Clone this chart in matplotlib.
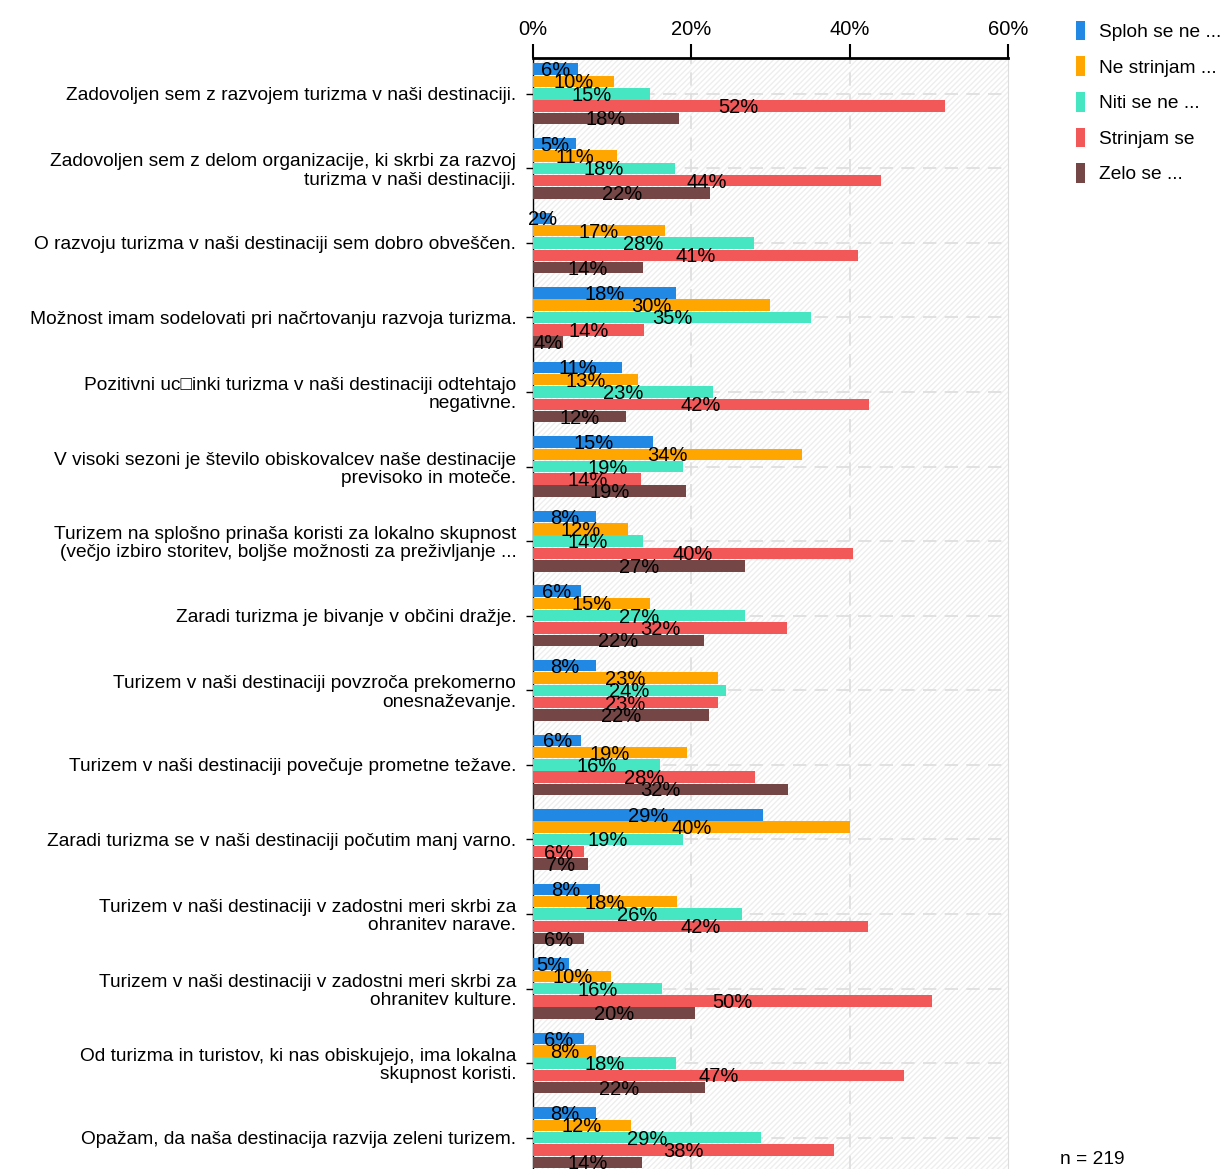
import matplotlib.pyplot as plt
import numpy as np
from matplotlib.patches import Rectangle, Patch

plt.rcParams['font.family'] = ['Liberation Sans', 'DejaVu Sans']

# statements (y axis)
questions = [
    "Zadovoljen sem z razvojem turizma v naši destinaciji.",
    "Zadovoljen sem z delom organizacije, ki skrbi za razvoj\nturizma v naši destinaciji.",
    "O razvoju turizma v naši destinaciji sem dobro obveščen.",
    "Možnost imam sodelovati pri načrtovanju razvoja turizma.",
    "Pozitivni uc\u25a1inki turizma v naši destinaciji odtehtajo\nnegativne.",
    "V visoki sezoni je število obiskovalcev naše destinacije\nprevisoko in moteče.",
    "Turizem na splošno prinaša koristi za lokalno skupnost\n(večjo izbiro storitev, boljše možnosti za preživljanje ...",
    "Zaradi turizma je bivanje v občini dražje.",
    "Turizem v naši destinaciji povzroča prekomerno\nonesnaževanje.",
    "Turizem v naši destinaciji povečuje prometne težave.",
    "Zaradi turizma se v naši destinaciji počutim manj varno.",
    "Turizem v naši destinaciji v zadostni meri skrbi za\nohranitev narave.",
    "Turizem v naši destinaciji v zadostni meri skrbi za\nohranitev kulture.",
    "Od turizma in turistov, ki nas obiskujejo, ima lokalna\nskupnost koristi.",
    "Opažam, da naša destinacija razvija zeleni turizem.",
]

answers = ["Sploh se ne ...", "Ne strinjam ...", "Niti se ne ...", "Strinjam se", "Zelo se ..."]
colors = ["#2189e3", "#ffa600", "#47e6c3", "#f25858", "#744646"]

# percentages per answer, one value per statement
sploh = [5.7, 5.4, 2.4, 18.1, 11.3, 15.2, 8.0, 6.0, 8.0, 6.1, 29.1, 8.4, 4.6, 6.5, 7.9]
ne_strinjam = [10.2, 10.6, 16.7, 29.9, 13.2, 34.0, 12.0, 14.8, 23.4, 19.4, 40.0, 18.2, 9.9, 7.9, 12.4]
niti = [14.8, 17.9, 27.9, 35.1, 22.7, 18.9, 13.9, 26.8, 24.4, 16.1, 18.9, 26.4, 16.3, 18.1, 28.8]
strinjam = [52.0, 44.0, 41.0, 14.0, 42.4, 13.7, 40.4, 32.1, 23.4, 28.1, 6.5, 42.3, 50.4, 46.9, 38.0]
zelo = [18.4, 22.4, 13.9, 3.8, 11.7, 19.3, 26.8, 21.6, 22.2, 32.2, 6.9, 6.4, 20.4, 21.7, 13.8]
series = [sploh, ne_strinjam, niti, strinjam, zelo]

fig = plt.figure(figsize=(12.24, 11.69), dpi=100)
ax = fig.add_axes([533 / 1224, 0, 475 / 1224, 1111 / 1169])

y = np.arange(len(questions))
step = 0.165
fs = 13.8

# hatched background
ax.add_patch(Rectangle((0, 0), 1, 1, transform=ax.transAxes, facecolor='white',
                       edgecolor='#eeeeee', hatch='//////', linewidth=0, zorder=0))

for k, (vals, col) in enumerate(zip(series, colors)):
    pos = y + (k - 2) * step
    ax.barh(pos, vals, height=step * 0.93, color=col, zorder=3)
    for p, v in zip(pos, vals):
        ax.text(v / 2, p + 0.02, f"{round(v)}%", ha='center', va='center', fontsize=14.5, zorder=4)

ax.set_xlim(0, 60)
ax.set_ylim(14.42, -0.48)
ax.set_xticks([0, 20, 40, 60])
ax.set_xticklabels(["0%", "20%", "40%", "60%"], fontsize=14.5)
ax.xaxis.tick_top()
ax.tick_params(axis='x', length=10, width=1.5, pad=4)
ax.set_yticks(y)
ax.set_yticklabels(questions, fontsize=fs, linespacing=1.1)
ax.tick_params(axis='y', length=5, width=1, pad=7)

for yy in y:
    ax.axhline(yy, color='#dddddd', lw=1.2, ls=(0, (8, 5)), zorder=1)
for xx in [20, 40]:
    ax.axvline(xx, color='#dddddd', lw=1.2, ls=(0, (8, 5)), zorder=1)

ax.spines['top'].set_linewidth(2)
ax.spines['left'].set_linewidth(1)
ax.spines['bottom'].set_visible(False)
ax.spines['right'].set_color('#dddddd')

handles = [Patch(facecolor=c) for c in colors]
fig.legend(handles, answers, loc='upper left', bbox_to_anchor=(1068 / 1224, 1 - 13 / 1169),
           frameon=False, fontsize=fs, handlelength=0.5, handleheight=1.2,
           handletextpad=0.7, labelspacing=0.8, borderaxespad=0)

fig.text(1060 / 1224, 1 - 1160 / 1169, "n = 219", fontsize=fs, va='center')

fig.savefig("out.png", dpi=100)
